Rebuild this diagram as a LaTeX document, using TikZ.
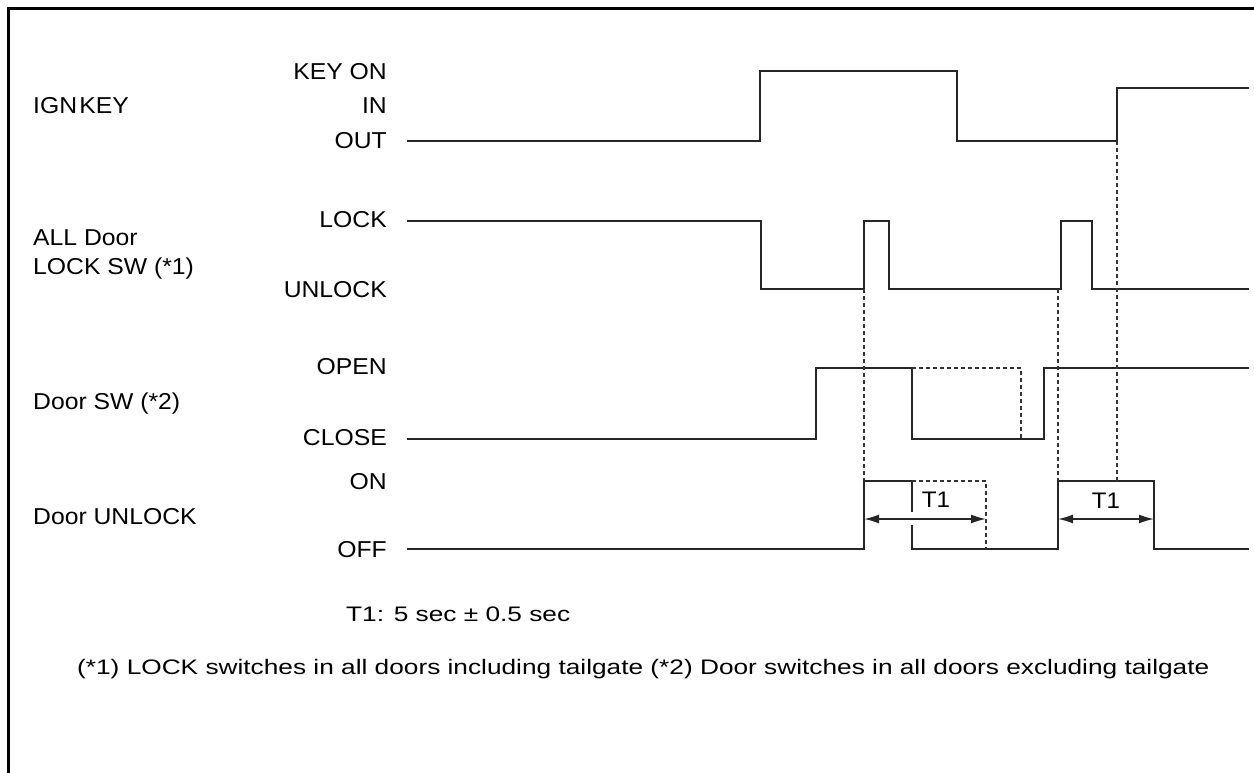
\documentclass[tikz,border=0pt]{standalone}
\usepackage{fontspec}
\setmainfont{Liberation Sans}
\newfontfamily\lblfont[FakeStretch=1.075]{Liberation Sans}
\newfontfamily\notefont[FakeStretch=1.25]{Liberation Sans}
\usetikzlibrary{arrows.meta}
\begin{document}
\begin{tikzpicture}[x=1pt,y=-1pt,
  sig/.style={line width=2.3pt, line join=miter, line cap=rect, draw=black!85},
  dsh/.style={line width=1.5pt, dash pattern=on 4pt off 3pt, draw=black!80},
  lvl/.style={anchor=base east, inner sep=0pt, font=\lblfont\fontsize{23}{27}\selectfont},
  ttl/.style={anchor=base west, inner sep=0pt, font=\lblfont\fontsize{23}{27}\selectfont},
  note/.style={anchor=base west, inner sep=0pt, font=\notefont\fontsize{21}{25}\selectfont},
  dimline/.style={line width=1.6pt, draw=black!85, {Latex[length=15pt,width=9pt]}-{Latex[length=15pt,width=9pt]}}]
\useasboundingbox (0,0) rectangle (1254,773);
\draw[line width=3pt] (8,773) -- (8,9) -- (1254,9);

% signal titles (base = centre + 8)
\node[ttl] (tign) at (33,114) {IGN\hspace{0.1em}KEY};
\node[ttl] (tlock1) at (33,245) {ALL Door};
\node[ttl] (tlock2) at (33,274) {LOCK SW (*1)};
\node[ttl] (tdoor) at (33,409) {Door SW (*2)};
\node[ttl] (tunl) at (33,524) {Door UNLOCK};

% level labels
\node[lvl] (lkeyon) at (387,80) {KEY ON};
\node[lvl] (lin) at (387,114) {IN};
\node[lvl] (lout) at (387,149) {OUT};
\node[lvl] (llock) at (387,228) {LOCK};
\node[lvl] (lunlock) at (387,297) {UNLOCK};
\node[lvl] (lopen) at (387,374) {OPEN};
\node[lvl] (lclose) at (387,445) {CLOSE};
\node[lvl] (lon) at (387,489) {ON};
\node[lvl] (loff) at (387,557) {OFF};

% IGN KEY
\draw[sig] (408,141) -| (760,71) -| (957,141) -| (1117,88) -- (1248,88);
% ALL Door LOCK SW
\draw[sig] (408,221) -| (761,289) -| (864,221) -| (889,289) -| (1061,221) -| (1092,289) -- (1248,289);
% Door SW
\draw[sig] (408,439) -| (816,368) -| (912,439) -| (1044,368) -- (1248,368);
\draw[dsh] (912,368) -| (1021,439);
% Door UNLOCK
\draw[sig] (408,549) -| (864,481) -- (912,481) -- (912,511);
\draw[sig] (912,526) -- (912,549) -| (1058,481) -| (1154,549) -- (1248,549);
\draw[dsh, line width=1.2pt] (912,481) -| (986,549);

% dashed timing references
\draw[dsh] (864,289) -- (864,481);
\draw[dsh] (1058,289) -- (1058,481);
\draw[dsh] (1117,141) -- (1117,481);

% T1 dimensions
\coordinate (a1l) at (864,519);
\coordinate (a1r) at (986,519);
\coordinate (a2l) at (1058,519);
\coordinate (a2r) at (1154,519);
\draw[dimline] (a1l) -- (a1r);
\draw[dimline] (a2l) -- (a2r);
\node[inner sep=0pt, anchor=base, font=\lblfont\fontsize{22.5}{26}\selectfont] (t1a) at (936,507) {T1};
\node[inner sep=0pt, anchor=base, font=\lblfont\fontsize{22.5}{26}\selectfont] (t1b) at (1106,508) {T1};

% notes
\node[note] (n1) at (346,621) {T1: 5 sec ± 0.5 sec};
\node[note] (n2) at (77,674) {(*1) LOCK switches in all doors including tailgate (*2) Door switches in all doors excluding tailgate};
\end{tikzpicture}
\end{document}
